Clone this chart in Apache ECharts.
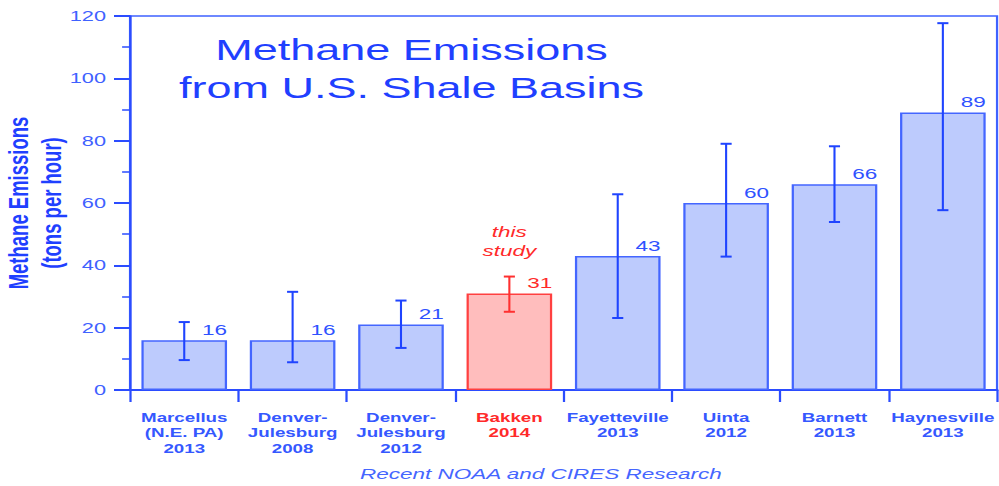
<!DOCTYPE html>
<html>
<head>
<meta charset="utf-8">
<script src="https://cdn.jsdelivr.net/npm/echarts@6/dist/echarts.min.js"></script>
<style>
  html, body { margin: 0; padding: 0; background: #fff; overflow: hidden; }
  /* source picture is stretched 1.5x horizontally, so draw narrow and stretch */
  #main { width: 666px; height: 486px; transform: scaleX(1.5); transform-origin: 0 0; }
</style>
</head>
<body>
<div id="main"></div>
<script>
const basins = [
  'Marcellus\n(N.E. PA)\n2013',
  'Denver-\nJulesburg\n2008',
  'Denver-\nJulesburg\n2012',
  'Bakken\n2014',
  'Fayetteville\n2013',
  'Uinta\n2012',
  'Barnett\n2013',
  'Haynesville\n2013'
]
const emissions = [16, 16, 21, 31, 43, 60, 66, 89]
const errLow = [9.6, 8.9, 13.5, 25.1, 23.1, 42.8, 53.9, 57.7]
const errHigh = [21.8, 31.5, 28.7, 36.4, 62.8, 79.0, 78.2, 117.7]
const yMin = 0
const yMax = 120
const yStep = 20
const studyIndex = 3   // Bakken, "this study"
const studyNoteY = 47.6

const font = '"Liberation Sans", Arial, sans-serif'
const blue = '#1f40ff'
const lightBlue = '#3558ff'
const red = '#ff2a2a'

const chart = echarts.init(document.getElementById('main'), null, { renderer: 'svg' })

const option = {
  animation: false,
  textStyle: { fontFamily: font },
  grid: {
    left: 86.7,
    right: 1.3,
    top: 16,
    bottom: 96,
    containLabel: false,
    outerBoundsMode: 'none',
    show: true,
    borderColor: '#3f62ff',
    borderWidth: 1.5
  },
  graphic: [
    {
      type: 'text',
      x: 274.3,
      y: 30,
      style: {
        text: 'Methane Emissions\nfrom U.S. Shale Basins',
        fontFamily: font,
        fontSize: 30,
        lineHeight: 38,
        fill: blue,
        align: 'center',
        textAlign: 'center',
        verticalAlign: 'top',
        textVerticalAlign: 'top'
      }
    },
    {
      type: 'text',
      x: 360.6,
      y: 474.3,
      style: {
        text: 'Recent NOAA and CIRES Research',
        fontFamily: font,
        fontSize: 15,
        fontStyle: 'italic',
        fill: '#4566ff',
        align: 'center',
        textAlign: 'center',
        verticalAlign: 'middle',
        textVerticalAlign: 'middle'
      }
    }
  ],
  xAxis: {
    type: 'category',
    data: basins.map((v, k) => k === studyIndex ? { value: v, textStyle: { color: red } } : v),
    boundaryGap: true,
    axisLine: { lineStyle: { color: '#2b4cff', width: 2 } },
    axisTick: { show: true, interval: 0, length: 12, lineStyle: { color: '#2b4cff', width: 1.5 } },
    axisLabel: {
      interval: 0,
      margin: 20,
      fontSize: 12.5,
      fontWeight: 'bold',
      lineHeight: 15.3,
      color: lightBlue,
      verticalAlign: 'top'
    }
  },
  yAxis: {
    type: 'value',
    min: yMin,
    max: yMax,
    interval: yStep,
    name: 'Methane Emissions\n(tons per hour)',
    nameLocation: 'middle',
    nameRotate: 90,
    nameGap: 41.5,
    nameMoveOverlap: false,
    nameTextStyle: {
      fontSize: 18.5,
      fontWeight: 'bold',
      lineHeight: 21.7,
      color: blue
    },
    splitLine: { show: false },
    axisLine: { show: true, lineStyle: { color: '#2b4cff', width: 1.5 } },
    axisTick: { show: true, length: 10.7, lineStyle: { color: '#2b4cff', width: 2 } },
    minorTick: { show: true, splitNumber: 2, length: 5.3, lineStyle: { color: '#2b4cff', width: 1.5 } },
    axisLabel: {
      margin: 16,
      fontSize: 14.5,
      color: '#3f62ff',
      formatter: '{v|{value}}',
      rich: {
        v: { fontSize: 14.5, fontFamily: font, color: '#3f62ff' }
      }
    }
  },
  series: [
    {
      type: 'bar',
      barCategoryGap: '21%',
      data: emissions.map((v, k) => k === studyIndex ? {
        value: v,
        itemStyle: { color: '#ffbdbd', borderColor: '#ff4040' },
        label: { color: red }
      } : v),
      itemStyle: { color: '#bdcbfd', borderColor: '#4466ff', borderWidth: 1.5 },
      label: {
        show: true,
        position: ['100%', 0],
        align: 'right',
        verticalAlign: 'bottom',
        offset: [0, -3],
        fontSize: 15,
        color: '#2f52ff'
      },
      markPoint: {
        symbol: 'circle',
        symbolSize: 1,
        itemStyle: { color: 'rgba(0,0,0,0)' },
        label: {
          show: true,
          position: 'inside',
          formatter: 'this\nstudy',
          fontSize: 15,
          fontStyle: 'italic',
          lineHeight: 19,
          color: red
        },
        data: [{ coord: [basins[studyIndex], studyNoteY] }]
      }
    },
    {
      type: 'custom',
      data: emissions.map((v, k) => [k, errLow[k], errHigh[k]]),
      encode: { x: 0, y: [1, 2] },
      z: 5,
      renderItem(params, api) {
        const lo = api.coord([api.value(0), api.value(1)])
        const hi = api.coord([api.value(0), api.value(2)])
        const w = 3.7
        const style = {
          stroke: params.dataIndex === studyIndex ? '#ff3030' : '#1f44ff',
          lineWidth: 1.4
        }
        return {
          type: 'group',
          children: [
            { type: 'line', shape: { x1: lo[0], y1: lo[1], x2: hi[0], y2: hi[1] }, style },
            { type: 'line', shape: { x1: hi[0] - w, y1: hi[1], x2: hi[0] + w, y2: hi[1] }, style: Object.assign({}, style, { lineWidth: 2 }) },
            { type: 'line', shape: { x1: lo[0] - w, y1: lo[1], x2: lo[0] + w, y2: lo[1] }, style: Object.assign({}, style, { lineWidth: 2 }) }
          ]
        }
      }
    }
  ]
}

chart.setOption(option)
</script>
</body>
</html>
